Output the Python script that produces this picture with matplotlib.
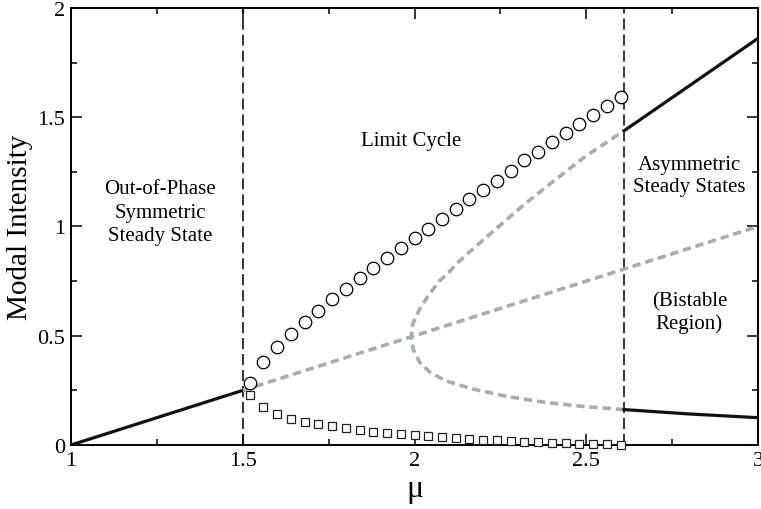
import matplotlib
matplotlib.use("Agg")
import matplotlib.pyplot as plt
from matplotlib.ticker import MultipleLocator, FormatStrFormatter

plt.rcParams['font.family'] = ['Liberation Serif', 'DejaVu Serif']
plt.rcParams['lines.scale_dashes'] = False

# symmetric (out-of-phase) steady state
sym_stable_mu = [1.0, 1.5]
sym_stable_I = [0.0, 0.25]
sym_unstable_mu = [1.5, 3.0]
sym_unstable_I = [0.25, 1.0]

# asymmetric steady states, unstable part (lower branch -> turning point -> upper branch)
asym_unstable_mu = [2.61, 2.50, 2.38, 2.27, 2.17, 2.09, 2.045, 2.015, 1.997, 1.99,
                    1.995, 2.015, 2.04, 2.073, 2.10, 2.121, 2.17, 2.237, 2.315, 2.40, 2.50, 2.61]
asym_unstable_I = [0.162, 0.175, 0.195, 0.222, 0.256, 0.294, 0.333, 0.378, 0.435, 0.49,
                   0.554, 0.622, 0.683, 0.752, 0.79, 0.828, 0.897, 0.989, 1.095, 1.202, 1.324, 1.438]

# asymmetric steady states, stable part
asym_hi_mu = [2.61, 3.0]
asym_hi_I = [1.438, 1.861]
asym_lo_mu = [2.61, 2.80, 3.0]
asym_lo_I = [0.162, 0.142, 0.125]

# limit cycle extrema
lc_mu = [1.52, 1.56, 1.60, 1.64, 1.68, 1.72, 1.76, 1.80, 1.84, 1.88, 1.92, 1.96, 2.00, 2.04,
         2.08, 2.12, 2.16, 2.20, 2.24, 2.28, 2.32, 2.36, 2.40, 2.44, 2.48, 2.52, 2.56, 2.60]
lc_max = [0.284, 0.378, 0.447, 0.508, 0.565, 0.615, 0.666, 0.716, 0.762, 0.809, 0.855, 0.900, 0.946, 0.989,
          1.034, 1.080, 1.126, 1.169, 1.210, 1.256, 1.302, 1.343, 1.388, 1.428, 1.469, 1.512, 1.553, 1.591]
lc_min = [0.230, 0.175, 0.140, 0.120, 0.105, 0.095, 0.085, 0.077, 0.068, 0.061, 0.055, 0.049, 0.044, 0.040,
          0.035, 0.031, 0.027, 0.024, 0.021, 0.018, 0.015, 0.012, 0.010, 0.008, 0.006, 0.004, 0.003, 0.002]

# region boundaries
boundaries = [1.5, 2.61]

GRAY = '#a7adb5'

fig = plt.figure(figsize=(7.61, 5.10), dpi=100)
ax = fig.add_axes([0.0933, 0.1255, 0.9028, 0.8569])

for b in boundaries:
    ax.axvline(b, color='black', lw=1.1, dashes=(8, 3.5), zorder=2)

ax.plot(sym_stable_mu, sym_stable_I, color='#111111', lw=2.3, zorder=3)
ax.plot(sym_unstable_mu, sym_unstable_I, color=GRAY, lw=2.6, dashes=(6, 3.5), zorder=3)
ax.plot(asym_unstable_mu, asym_unstable_I, color=GRAY, lw=2.6, dashes=(6, 3.5), zorder=3)
ax.plot(asym_hi_mu, asym_hi_I, color='#111111', lw=2.3, zorder=3)
ax.plot(asym_lo_mu, asym_lo_I, color='#111111', lw=2.3, zorder=3)

ax.plot(lc_mu, lc_max, 'o', ms=9, mfc='white', mec='black', mew=0.9, zorder=4, clip_on=False)
ax.plot(lc_mu, lc_min, 's', ms=6, mfc='white', mec='#222222', mew=0.9, zorder=4, clip_on=False)

# region labels
txt = dict(fontsize=15, ha='center', va='center')
ax.text(1.26, 1.066, 'Out-of-Phase\nSymmetric\nSteady State', linespacing=1.3, **txt)
ax.text(1.99, 1.393, 'Limit Cycle', **txt)
ax.text(2.80, 1.233, 'Asymmetric\nSteady States', linespacing=1.2, **txt)
ax.text(2.80, 0.608, '(Bistable\nRegion)', linespacing=1.2, **txt)

ax.set_xlim(1, 3)
ax.set_ylim(0, 2)
ax.xaxis.set_major_locator(MultipleLocator(0.5))
ax.xaxis.set_minor_locator(MultipleLocator(0.25))
ax.yaxis.set_major_locator(MultipleLocator(0.5))
ax.yaxis.set_minor_locator(MultipleLocator(0.25))
ax.xaxis.set_major_formatter(FormatStrFormatter('%g'))
ax.yaxis.set_major_formatter(FormatStrFormatter('%g'))
ax.tick_params(which='both', direction='in', top=True, right=True, width=1.1, labelsize=16)
ax.tick_params(which='major', length=8, pad=4)
ax.tick_params(which='minor', length=4.5)
for s in ax.spines.values():
    s.set_linewidth(1.4)

ax.set_xlabel('μ', fontsize=23, labelpad=3)
ax.set_ylabel('Modal Intensity', fontsize=21, labelpad=3)

fig.savefig('out.png', dpi=100)
